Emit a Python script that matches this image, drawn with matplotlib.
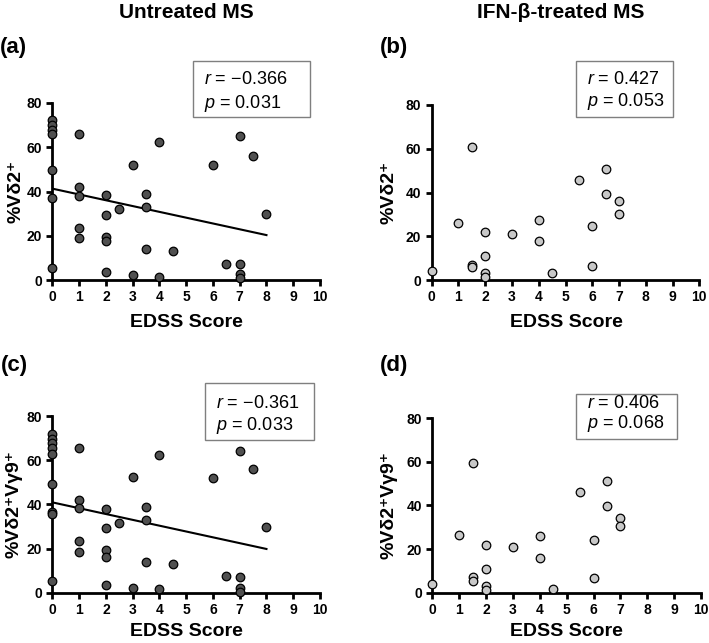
import numpy as np
import matplotlib
matplotlib.use("Agg")
import matplotlib.pyplot as plt
from matplotlib.patches import Rectangle

W, H = 709, 643
FONT = ['Liberation Sans', 'DejaVu Sans']
plt.rcParams['font.family'] = FONT

# (a) untreated MS, %Vd2+
a_x = [0, 0, 0, 0, 0, 0, 0, 1, 1, 1, 1, 1, 2, 2, 2, 2, 2, 2.5, 3, 3,
       3.5, 3.5, 3.5, 4, 4, 4.5, 6, 6.5, 7, 7, 7, 7, 7.5, 8]
a_y = [72.5, 70, 68, 66, 49.5, 37, 5.3, 66, 42, 38, 23.5, 18.8,
       38.5, 29.5, 19.5, 17.7, 3.6, 32.2, 52.2, 2.3, 39, 33, 14,
       62.3, 1.5, 13.2, 52.2, 7.4, 65.1, 7.4, 2.7, 0.8, 56.2, 29.9]
a_fit_x = [0, 8]
a_fit_y = [41.3, 20.3]

# (b) IFN-beta treated MS, %Vd2+
b_x = [0, 1, 1.5, 1.5, 1.5, 2, 2, 2, 2, 3, 4, 4, 4.5, 5.5, 6, 6, 6.5, 6.5, 7, 7]
b_y = [4.0, 26, 60.8, 7, 5.8, 21.8, 10.8, 3.4, 1.4, 21, 27.3, 18, 3,
       45.9, 24.5, 6.6, 50.9, 39.3, 36.3, 30.2]

# (c) untreated MS, %Vd2+Vg9+
c_x = [0, 0, 0, 0, 0, 0, 0, 0, 0, 1, 1, 1, 1, 1, 2, 2, 2, 2, 2, 2.5, 3, 3,
       3.5, 3.5, 3.5, 4, 4, 4.5, 6, 6.5, 7, 7, 7, 7, 7.5, 8]
c_y = [71.8, 69.8, 67.7, 65.5, 63, 49.2, 36.5, 35.5, 5.3,
       65.5, 42, 38.2, 23.2, 18.6, 37.9, 29.3, 19.5, 16.2, 3.3, 31.7,
       52.4, 2, 39, 32.8, 13.9, 62.2, 1.5, 12.8, 52.1, 7.4,
       64, 7.2, 2.3, 0.5, 56.2, 29.9]
c_fit_x = [0, 8]
c_fit_y = [40.9, 19.8]

# (d) IFN-beta treated MS, %Vd2+Vg9+
d_x = [0, 1, 1.5, 1.5, 1.5, 2, 2, 2, 2, 3, 4, 4, 4.5, 5.5, 6, 6, 6.5, 6.5, 7, 7]
d_y = [4, 26.3, 59.5, 7.3, 5.5, 21.9, 10.7, 3.2, 1.4, 21.1, 26, 15.9, 1.7,
       46.2, 24.3, 6.6, 51.1, 39.6, 34.1, 30.4]

x_ticks = list(range(0, 11))
y_ticks = [0, 20, 40, 60, 80]
stats = [("\u22120.366", "0.031"), ("0.427", "0.053"),
         ("\u22120.361", "0.033"), ("0.406", "0.068")]

DARK = '#505050'
LIGHT = '#c8c8c8'


def fx(px):
    return px / W


def fy(py):
    return 1 - py / H


def make_axes(fig, x0, x10, y0, y80):
    ax = fig.add_axes([fx(x0), fy(y0), (x10 - x0) / W, (y0 - y80) / H])
    ax.set_xlim(0, 10)
    ax.set_ylim(0, 80)
    for side in ['top', 'right']:
        ax.spines[side].set_visible(False)
    for side in ['left', 'bottom']:
        ax.spines[side].set_linewidth(2.0)
    ax.set_xticks(x_ticks)
    ax.set_yticks(y_ticks)
    ax.tick_params(direction='out', length=4.5, width=2.0, labelsize=10, pad=3)
    for lab in ax.get_xticklabels() + ax.get_yticklabels():
        lab.set_fontweight('bold')
    ax.patch.set_visible(False)
    return ax


def stat_box(fig, x1, x2, y1, y2, tx, ty1, ty2, r, p):
    rect = Rectangle((fx(x1), fy(y2)), (x2 - x1) / W, (y2 - y1) / H,
                     transform=fig.transFigure, fill=False,
                     edgecolor='#7f7f7f', linewidth=1.0)
    fig.patches.append(rect)
    fig.text(fx(tx), fy(ty1), f"$\\it{{r}}$ = {r}", fontsize=13, va='center', ha='left')
    fig.text(fx(tx), fy(ty2), f"$\\it{{p}}$ = {p}", fontsize=13, va='center', ha='left')


fig = plt.figure(figsize=(W / 100, H / 100), dpi=100)
plt.rcParams['mathtext.fontset'] = 'custom'
plt.rcParams['mathtext.it'] = 'Liberation Sans:italic'

ax_a = make_axes(fig, 52.3, 320, 280, 103)
ax_b = make_axes(fig, 431.7, 699.3, 280, 105)
ax_c = make_axes(fig, 52.3, 320, 592.7, 416)
ax_d = make_axes(fig, 432.3, 701, 592.7, 418)

marker_kw = dict(s=38, edgecolors='black', linewidths=0.9, clip_on=False, zorder=3)
ax_a.scatter(a_x, a_y, color=DARK, **marker_kw)
ax_a.plot(a_fit_x, a_fit_y, color='black', linewidth=1.5, zorder=2)
ax_b.scatter(b_x, b_y, color=LIGHT, **marker_kw)
ax_c.scatter(c_x, c_y, color=DARK, **marker_kw)
ax_c.plot(c_fit_x, c_fit_y, color='black', linewidth=1.5, zorder=2)
ax_d.scatter(d_x, d_y, color=LIGHT, **marker_kw)

# column titles
fig.text(fx(186), fy(12), "Untreated MS", fontsize=15, fontweight='bold', ha='center', va='center')
fig.text(fx(561), fy(12), "IFN-\u03b2-treated MS", fontsize=15, fontweight='bold', ha='center', va='center')

# panel letters
lab_kw = dict(fontsize=16, fontweight='bold', ha='left', va='center')
fig.text(fx(0), fy(48), "(a)", **lab_kw)
fig.text(fx(380), fy(48), "(b)", **lab_kw)
fig.text(fx(1), fy(366), "(c)", **lab_kw)
fig.text(fx(380), fy(366), "(d)", **lab_kw)

# y labels
ylab_kw = dict(fontsize=14, fontweight='bold', rotation=90, ha='center', va='center', family=FONT)
fig.text(fx(16), fy(191), "%V\u03b42\u207a", **ylab_kw)
fig.text(fx(389), fy(192), "%V\u03b42\u207a", **ylab_kw)
fig.text(fx(14), fy(504), "%V\u03b42\u207aV\u03b39\u207a", **ylab_kw)
fig.text(fx(389), fy(505), "%V\u03b42\u207aV\u03b39\u207a", **ylab_kw)

# x labels
xlab_kw = dict(fontsize=14, fontweight='bold', ha='center', va='center')
fig.text(fx(186), fy(322), "EDSS Score", **xlab_kw)
fig.text(fx(566), fy(322), "EDSS Score", **xlab_kw)
fig.text(fx(186), fy(632), "EDSS Score", **xlab_kw)
fig.text(fx(566), fy(632), "EDSS Score", **xlab_kw)

# correlation boxes
stat_box(fig, 193, 310, 61, 117, 204, 80, 103, *stats[0])
stat_box(fig, 576, 673, 61, 117, 587, 80, 102, *stats[1])
stat_box(fig, 205, 314, 383, 440, 216, 403, 425, *stats[2])
stat_box(fig, 576, 677, 394, 439, 587, 403, 424, *stats[3])

fig.savefig("out.png", dpi=100)
